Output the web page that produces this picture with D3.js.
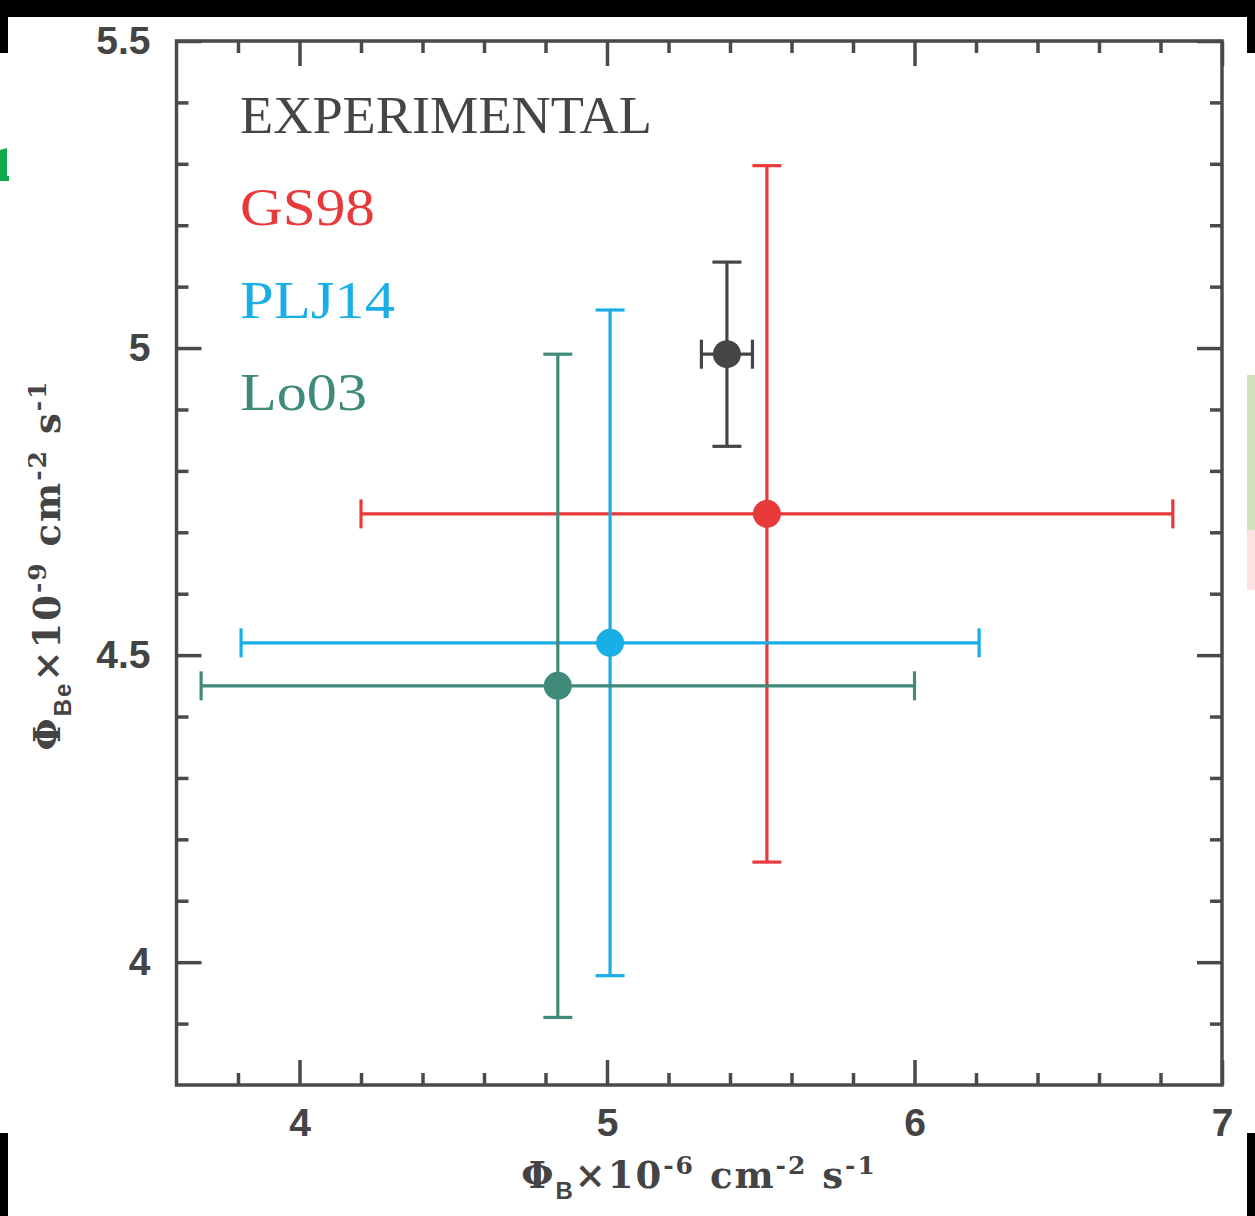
<!DOCTYPE html>
<html>
<head>
<meta charset="utf-8">
<script src="https://cdn.jsdelivr.net/npm/d3@7"></script>
<style>
  html, body { margin: 0; padding: 0; background: #fff; }
  svg { display: block; }
</style>
</head>
<body>
<script>
// Solar neutrino fluxes: 8B (x) against 7Be (y), measurement vs. solar models
const models   = ["EXPERIMENTAL", "GS98", "PLJ14", "Lo03"];
const phiB     = [5.39, 5.52, 5.01, 4.84];   // x 10^-6 cm^-2 s^-1
const phiBErr  = [0.083, 1.32, 1.20, 1.16];
const phiBe    = [4.99, 4.73, 4.52, 4.45];   // x 10^-9 cm^-2 s^-1
const phiBeErr = [0.15, 0.567, 0.542, 0.54];
const colors   = ["#454545", "#e8393b", "#1aaee6", "#3f8a79"];

const xMajor = [4, 5, 6, 7];
const yMajor = [4, 4.5, 5, 5.5];
const xMinor = d3.range(38, 70, 2).map(v => v / 10).filter(v => !xMajor.includes(v));
const yMinor = d3.range(39, 55, 1).map(v => v / 10).filter(v => !yMajor.includes(v));

const W = 1255, H = 1216;
const m = { left: 176.5, right: 1222, top: 41, bottom: 1085 };

const svg = d3.select("body").append("svg").attr("width", W).attr("height", H);

const x = d3.scaleLinear().domain([3.6, 7.0]).range([m.left, m.right]);
const y = d3.scaleLinear().domain([3.8, 5.5]).range([m.bottom, m.top]);

const axisColor = "#4a4a4a";
const majorLen = 25, minorLen = 12;
const tickFont = "'Liberation Sans', Arial, sans-serif";

function styleAxis(g) {
  g.select(".domain").remove();
  g.selectAll(".tick line").attr("stroke", axisColor).attr("stroke-width", 3.5);
  g.selectAll(".tick text")
    .attr("fill", "#444").attr("font-family", tickFont)
    .attr("font-weight", "bold").attr("font-size", 39);
}

// bottom axis (ticks point inward)
svg.append("g").attr("transform", `translate(0,${m.bottom})`)
  .call(d3.axisBottom(x).tickValues(xMajor).tickSize(-majorLen).tickPadding(23).tickFormat(d3.format("d")))
  .call(styleAxis);
svg.append("g").attr("transform", `translate(0,${m.bottom})`)
  .call(d3.axisBottom(x).tickValues(xMinor).tickSize(-minorLen).tickFormat(""))
  .call(styleAxis);
// top axis
svg.append("g").attr("transform", `translate(0,${m.top})`)
  .call(d3.axisTop(x).tickValues(xMajor).tickSize(-majorLen).tickFormat(""))
  .call(styleAxis);
svg.append("g").attr("transform", `translate(0,${m.top})`)
  .call(d3.axisTop(x).tickValues(xMinor).tickSize(-minorLen).tickFormat(""))
  .call(styleAxis);
// left axis
svg.append("g").attr("transform", `translate(${m.left},0)`)
  .call(d3.axisLeft(y).tickValues(yMajor).tickSize(-majorLen).tickPadding(26).tickFormat(d => d3.format("")(d)))
  .call(styleAxis);
svg.append("g").attr("transform", `translate(${m.left},0)`)
  .call(d3.axisLeft(y).tickValues(yMinor).tickSize(-minorLen).tickFormat(""))
  .call(styleAxis);
// right axis
svg.append("g").attr("transform", `translate(${m.right},0)`)
  .call(d3.axisRight(y).tickValues(yMajor).tickSize(-majorLen).tickFormat(""))
  .call(styleAxis);
svg.append("g").attr("transform", `translate(${m.right},0)`)
  .call(d3.axisRight(y).tickValues(yMinor).tickSize(-minorLen).tickFormat(""))
  .call(styleAxis);

// plot frame
svg.append("rect")
  .attr("x", m.left).attr("y", m.top)
  .attr("width", m.right - m.left).attr("height", m.bottom - m.top)
  .attr("fill", "none").attr("stroke", axisColor).attr("stroke-width", 3.5);

// error crosses
const cap = 14.5;
const pts = models.map((name, i) => ({
  name, bx: phiB[i], bxe: phiBErr[i], by: phiBe[i], bye: phiBeErr[i], color: colors[i]
}));

const marks = svg.append("g").selectAll("g").data(pts).join("g")
  .attr("stroke", d => d.color).attr("stroke-width", 3.2).attr("fill", "none");

// horizontal bar + end caps
marks.append("line")
  .attr("x1", d => x(d.bx - d.bxe)).attr("x2", d => x(d.bx + d.bxe))
  .attr("y1", d => y(d.by)).attr("y2", d => y(d.by));
marks.append("line")
  .attr("x1", d => x(d.bx - d.bxe)).attr("x2", d => x(d.bx - d.bxe))
  .attr("y1", d => y(d.by) - cap).attr("y2", d => y(d.by) + cap);
marks.append("line")
  .attr("x1", d => x(d.bx + d.bxe)).attr("x2", d => x(d.bx + d.bxe))
  .attr("y1", d => y(d.by) - cap).attr("y2", d => y(d.by) + cap);
// vertical bar + end caps
marks.append("line")
  .attr("x1", d => x(d.bx)).attr("x2", d => x(d.bx))
  .attr("y1", d => y(d.by - d.bye)).attr("y2", d => y(d.by + d.bye));
marks.append("line")
  .attr("x1", d => x(d.bx) - cap).attr("x2", d => x(d.bx) + cap)
  .attr("y1", d => y(d.by + d.bye)).attr("y2", d => y(d.by + d.bye));
marks.append("line")
  .attr("x1", d => x(d.bx) - cap).attr("x2", d => x(d.bx) + cap)
  .attr("y1", d => y(d.by - d.bye)).attr("y2", d => y(d.by - d.bye));
// central value
marks.append("circle")
  .attr("cx", d => x(d.bx)).attr("cy", d => y(d.by)).attr("r", 14)
  .attr("fill", d => d.color).attr("stroke", "none");

// legend: coloured model names
const legendWidths = [412, 135, 155, 127];
svg.append("g").selectAll("text").data(pts).join("text")
  .attr("x", 240)
  .attr("y", (d, i) => 133 + i * 92.3)
  .attr("fill", d => d.color)
  .attr("font-family", "'Liberation Serif', 'Times New Roman', serif")
  .attr("font-size", 52)
  .attr("textLength", (d, i) => legendWidths[i])
  .attr("lengthAdjust", "spacingAndGlyphs")
  .text(d => d.name);

// axis titles
const labelFont = "'DejaVu Serif', serif";
const subFont = "'Liberation Sans', Arial, sans-serif";

function buildLabel(t, sub, exp) {
  t.attr("font-family", labelFont).attr("font-weight", "bold").attr("fill", "#444")
    .attr("letter-spacing", 2);
  t.append("tspan").attr("font-size", 37).text("Φ");
  t.append("tspan").attr("font-family", subFont).attr("font-size", 24).attr("dy", 11).text(sub);
  t.append("tspan").attr("font-size", 37).attr("dy", -11).text("×10");
  t.append("tspan").attr("font-size", 25).attr("dy", -14).text("-" + exp);
  t.append("tspan").attr("font-size", 37).attr("dy", 14).text(" cm");
  t.append("tspan").attr("font-size", 25).attr("dy", -14).text("-2");
  t.append("tspan").attr("font-size", 37).attr("dy", 14).text(" s");
  t.append("tspan").attr("font-size", 25).attr("dy", -14).text("-1");
}

const xl = svg.append("text").attr("x", 699).attr("y", 1188).attr("text-anchor", "middle");
buildLabel(xl, "B", "6");

const yl = svg.append("text").attr("text-anchor", "middle")
  .attr("transform", `translate(60,565) rotate(-90)`);
buildLabel(yl, "Be", "9");

// neighbouring-panel edges
const edge = svg.append("g");
edge.append("rect").attr("x", 0).attr("y", 0).attr("width", W).attr("height", 17).attr("fill", "#000");
edge.append("rect").attr("x", 0).attr("y", 0).attr("width", 8).attr("height", 53).attr("fill", "#000");
edge.append("rect").attr("x", W - 8).attr("y", 0).attr("width", 8).attr("height", 53).attr("fill", "#000");
edge.append("rect").attr("x", 0).attr("y", 1133).attr("width", 8).attr("height", H - 1133).attr("fill", "#000");
edge.append("rect").attr("x", W - 8).attr("y", 1133).attr("width", 8).attr("height", H - 1133).attr("fill", "#000");
edge.append("rect").attr("x", W - 8).attr("y", 375).attr("width", 8).attr("height", 155).attr("fill", "#cfe0bf");
edge.append("rect").attr("x", W - 8).attr("y", 530).attr("width", 8).attr("height", 60).attr("fill", "#fbe3e3");
edge.append("path").attr("fill", "#10a84a")
  .attr("d", "M0,150 L7,148 L7,176 L9,176 L9,181 L0,181 Z");
</script>
</body>
</html>
